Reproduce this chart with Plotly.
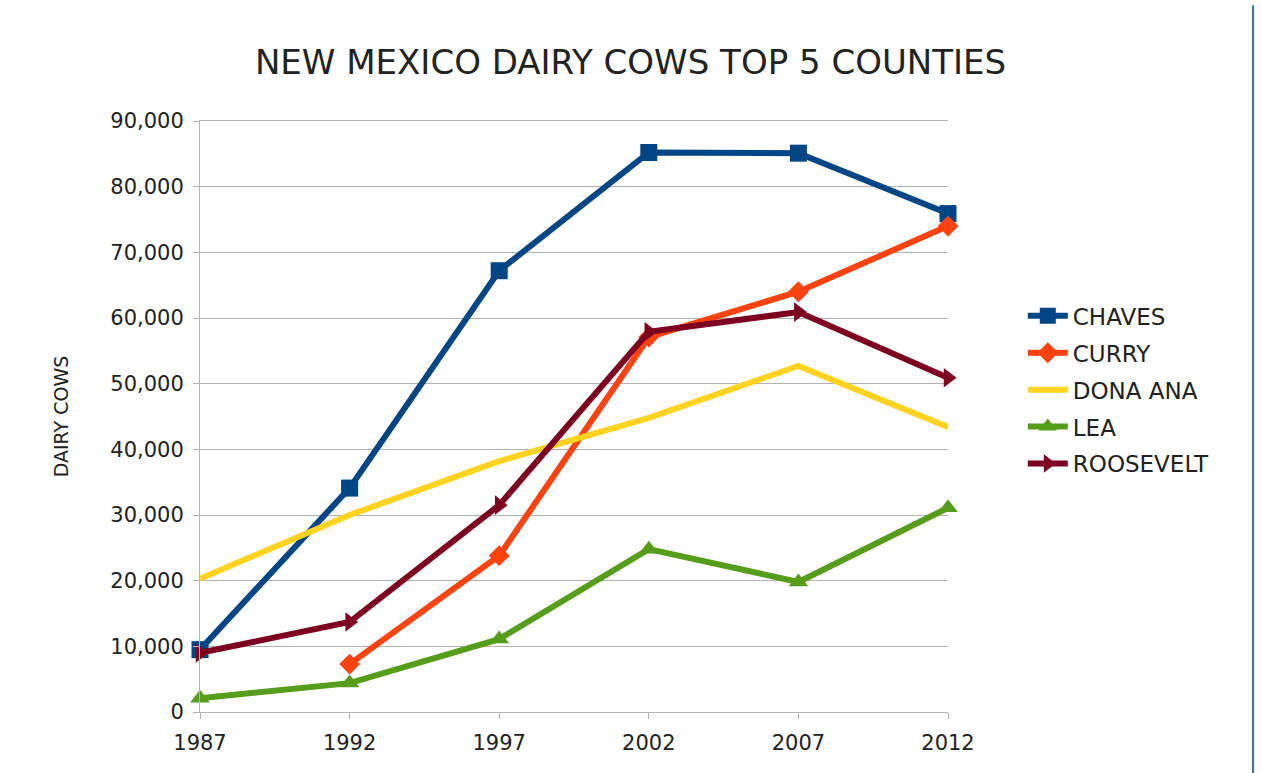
import plotly.graph_objects as go

years = [1987, 1992, 1997, 2002, 2007, 2012]
chaves = [9500, 34100, 67200, 85200, 85100, 75900]
curry = [None, 7300, 23800, 57100, 64000, 74000]
dona_ana = [20300, 30000, 38200, 44800, 52700, 43400]
lea = [2100, 4400, 11100, 24800, 19800, 31100]
roosevelt = [9000, 13700, 31500, 57900, 60900, 50900]

y_ticks = list(range(0, 90001, 10000))
y_tick_text = [f"{v:,}" for v in y_ticks]

series = [
    ("CHAVES", chaves, "#004586", "square", 17),
    ("CURRY", curry, "#ff420e", "diamond", 16),
    ("DONA ANA", dona_ana, "#ffd320", None, 0),
    ("LEA", lea, "#579d1c", "triangle-up", 17),
    ("ROOSEVELT", roosevelt, "#7e0021", "triangle-right", 17),
]

FONT = "DejaVu Sans, Liberation Sans, Arial, sans-serif"

fig = go.Figure()
for i, (name, vals, color, sym, size) in enumerate(series):
    mode = "lines+markers" if sym else "lines"
    fig.add_trace(go.Scatter(
        x=years, y=vals, name=name, mode=mode,
        line=dict(color=color, width=6),
        marker=dict(symbol=sym or "circle", size=size, color=color),
        cliponaxis=False, legendgroup=f"g{i}", connectgaps=False,
    ))

fig.update_layout(
    width=1261, height=773,
    margin=dict(l=200, r=313, t=121, b=61),
    paper_bgcolor="white", plot_bgcolor="white",
    font=dict(family=FONT, color="#222222"),
    title=dict(text="NEW MEXICO DAIRY COWS TOP 5 COUNTIES", x=0.5, xanchor="center",
               xref="container", y=0.92, yref="container", yanchor="middle",
               font=dict(size=34, color="#222222", family=FONT)),
    showlegend=True,
    legend=dict(x=1.1, xanchor="left", y=0.545, yanchor="middle",
                font=dict(size=23, color="#222222", family=FONT), traceorder="grouped",
                tracegroupgap=4, itemwidth=40),
    xaxis=dict(range=[1987, 2012], tickvals=years, ticktext=[str(y) for y in years],
               showgrid=False, showline=True, linecolor="#b3b3b3", linewidth=1,
               mirror=True, ticks="outside", ticklen=6, tickcolor="#b3b3b3",
               ticklabelstandoff=6,
               tickfont=dict(size=21, color="#222222", family=FONT), zeroline=False),
    yaxis=dict(range=[0, 90000], tickvals=y_ticks, ticktext=y_tick_text,
               showgrid=True, gridcolor="#b3b3b3", gridwidth=1,
               showline=True, linecolor="#b3b3b3", linewidth=1,
               ticks="outside", ticklen=6, tickcolor="#b3b3b3",
               ticklabelstandoff=5,
               tickfont=dict(size=21, color="#222222", family=FONT), zeroline=False,
               title=dict(text="DAIRY COWS", font=dict(size=19, color="#222222", family=FONT),
                          standoff=36)),
    shapes=[dict(type="line", xref="paper", yref="paper", x0=1.4078, x1=1.4078,
                 y0=1.196, y1=-0.11, line=dict(color="#3a6fb8", width=2))],
)

fig.write_html("out.html")
